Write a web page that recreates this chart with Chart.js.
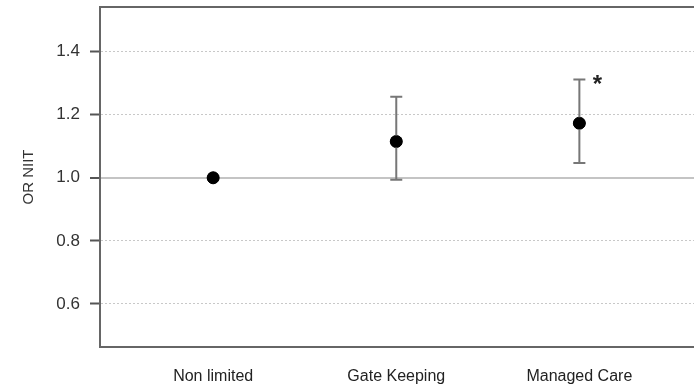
<!DOCTYPE html>
<html>
<head>
<meta charset="utf-8">
<script src="https://cdn.jsdelivr.net/npm/chart.js@4/dist/chart.umd.min.js"></script>
<style>
  html, body { margin: 0; padding: 0; background: #fff; }
  #wrap { width: 694px; height: 387px; }
</style>
</head>
<body>
<div id="wrap"><canvas id="chart"></canvas></div>
<script>
/* ---------- data ---------- */
var categories = ['Non limited', 'Gate Keeping', 'Managed Care'];
var orValues   = [1.0, 1.115, 1.173];
var ciLower    = [null, 0.994, 1.047];
var ciUpper    = [null, 1.257, 1.312];
var signif     = ['', '', '*'];
var yTicks     = [0.6, 0.8, 1.0, 1.2, 1.4];

var FONT = '"Liberation Sans", Arial, sans-serif';

/* ---------- error bars, box top and significance star ---------- */
var extras = {
    id: 'extras',
    afterDatasetsDraw: function(chart) {
        var ctx = chart.ctx, xs = chart.scales.x, ys = chart.scales.y, a = chart.chartArea;
        ctx.save();
        // top border of the box
        ctx.strokeStyle = '#666';
        ctx.lineWidth = 2;
        ctx.beginPath();
        ctx.moveTo(a.left - 1, a.top);
        ctx.lineTo(a.right, a.top);
        ctx.stroke();

        ctx.strokeStyle = '#777';
        ctx.lineWidth = 2;
        for (var i = 0; i < categories.length; i++) {
            if (ciLower[i] == null) continue;
            var px = xs.getPixelForValue(i + 1);
            var lo = ys.getPixelForValue(ciLower[i]);
            var hi = ys.getPixelForValue(ciUpper[i]);
            ctx.beginPath();
            ctx.moveTo(px, lo); ctx.lineTo(px, hi);
            ctx.moveTo(px - 6, lo); ctx.lineTo(px + 6, lo);
            ctx.moveTo(px - 6, hi); ctx.lineTo(px + 6, hi);
            ctx.stroke();
        }
        // redraw the points on top of the bars
        var meta = chart.getDatasetMeta(0);
        ctx.fillStyle = '#000';
        meta.data.forEach(function(pt) {
            ctx.beginPath();
            ctx.arc(pt.x, pt.y, 6, 0, Math.PI * 2);
            ctx.fill();
        });

        ctx.fillStyle = '#222';
        ctx.font = 'bold 24px ' + FONT;
        ctx.textAlign = 'center';
        ctx.textBaseline = 'middle';
        for (var j = 0; j < signif.length; j++) {
            if (!signif[j]) continue;
            ctx.fillText(signif[j], xs.getPixelForValue(j + 1) + 18, ys.getPixelForValue(ciUpper[j]) + 6);
        }
        ctx.restore();
    }
};

var points = categories.map(function(c, i) { return { x: i + 1, y: orValues[i] }; });

new Chart(document.getElementById('chart'), {
    type: 'scatter',
    data: {
        datasets: [{
            data: points,
            backgroundColor: '#000',
            borderColor: '#000',
            pointRadius: 6,
            pointHoverRadius: 6
        }]
    },
    options: {
        responsive: true,
        maintainAspectRatio: false,
        animation: false,
        events: [],
        layout: { autoPadding: false, padding: { top: 7, right: 0, left: 0, bottom: 0 } },
        plugins: { legend: { display: false }, tooltip: { enabled: false } },
        scales: {
            x: {
                type: 'linear',
                min: 0.382,
                max: 3.626,
                afterBuildTicks: function(s) {
                    s.ticks = categories.map(function(c, i) { return { value: i + 1 }; });
                },
                afterFit: function(s) {
                    s.height = 40;
                    s.paddingLeft = 0;
                    s.paddingRight = 0;
                },
                ticks: {
                    padding: 20,
                    color: '#222',
                    font: { family: FONT, size: 16 },
                    maxRotation: 0,
                    callback: function(v) { return categories[v - 1]; }
                },
                grid: { display: false, drawTicks: false },
                border: { display: true, color: '#666', width: 2 }
            },
            y: {
                min: 0.4635,
                max: 1.5415,
                afterBuildTicks: function(s) {
                    s.ticks = yTicks.map(function(v) { return { value: v }; });
                },
                afterFit: function(s) {
                    s.width = 100;
                    s.paddingTop = 0;
                    s.paddingBottom = 0;
                },
                ticks: {
                    padding: 10,
                    color: '#333',
                    font: { family: FONT, size: 17 },
                    callback: function(v) { return v.toFixed(1); }
                },
                title: {
                    display: true,
                    text: 'OR NIIT',
                    color: '#333',
                    font: { family: FONT, size: 15 },
                    padding: { top: 20, bottom: 0 }
                },
                grid: {
                    color: function(c) { return c.tick && c.tick.value === 1 ? '#c4c4c4' : '#c8c8c8'; },
                    lineWidth: function(c) { return c.tick && c.tick.value === 1 ? 2 : 1; },
                    tickLength: 10,
                    tickColor: '#555',
                    tickWidth: 2,
                    tickBorderDash: []
                },
                border: {
                    display: true,
                    color: '#666',
                    width: 2,
                    dash: function(c) { return c.tick && c.tick.value !== 1 ? [2, 2] : []; }
                }
            }
        }
    },
    plugins: [extras]
});
</script>
</body>
</html>
